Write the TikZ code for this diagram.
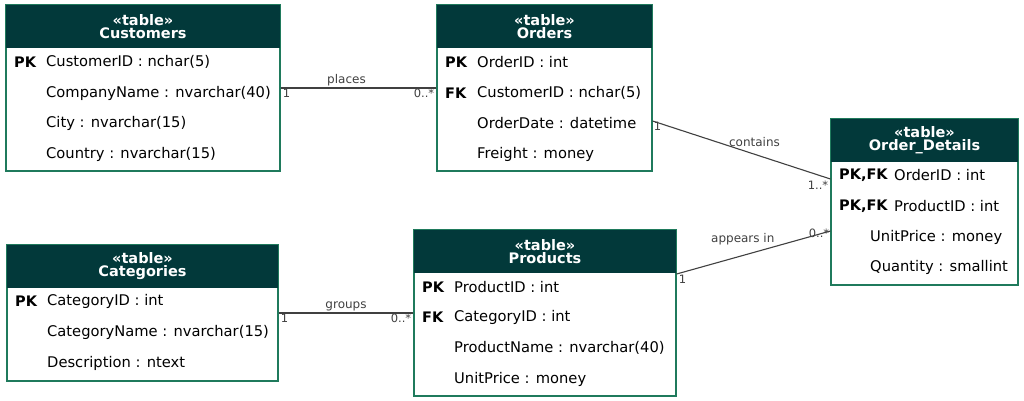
\documentclass[tikz,border=0pt]{standalone}
\usepackage{fontspec}
\setmainfont{DejaVu Sans}
\usetikzlibrary{positioning}
\definecolor{hdr}{HTML}{02393A}
\definecolor{brd}{HTML}{1F7A5C}
\definecolor{lnk}{HTML}{404040}
\tikzset{
  tbl/.style={draw=brd,line width=1.2pt,fill=white,inner sep=0pt},
  title/.style={text=white,font=\fontsize{14.5}{16}\selectfont\bfseries,align=center},
  key/.style={anchor=west,font=\fontsize{14.5}{16}\selectfont\bfseries,inner sep=0pt},
  fld/.style={anchor=west,font=\fontsize{14.7}{16}\selectfont,inner sep=0pt},
  rel/.style={draw=lnk,line width=1.1pt},
  lbl/.style={text=lnk,font=\fontsize{12}{13}\selectfont,inner sep=1pt},
  mult/.style={text=lnk,font=\fontsize{11.5}{12}\selectfont,inner sep=0pt}
}
% table frame with header band
\newcommand{\dbtable}[6]{%
  \node[tbl,minimum width=#4,minimum height=#5] (#1) at (#2,#3) {};
  \fill[hdr] ([xshift=0.6pt,yshift=-0.6pt]#1.north west) rectangle ([xshift=-0.6pt,yshift=-44pt]#1.north east);
  \node[title] (#1-t) at ([yshift=-22pt]#1.north) {«table»\\[-3pt]#6};
}
\begin{document}
\begin{tikzpicture}[x=1pt,y=-1pt]
\useasboundingbox (0,0) rectangle (1024,401);

\dbtable{customers}{143}{88}{274}{166}{Customers}
\node[key] (cu-k1) at (14,62) {PK};
\node[fld] (cu-f1) at (46,62) {CustomerID : nchar(5)};
\node[fld] (cu-f2) at (46,93) {CompanyName : nvarchar(40)};
\node[fld] (cu-f3) at (46,123) {City : nvarchar(15)};
\node[fld] (cu-f4) at (46,154) {Country : nvarchar(15)};

\dbtable{orders}{544.5}{88}{215}{166}{Orders}
\node[key] (or-k1) at (445,62) {PK};
\node[key] (or-k2) at (445,93) {FK};
\node[fld] (or-f1) at (477,62) {OrderID : int};
\node[fld] (or-f2) at (477,93) {CustomerID : nchar(5)};
\node[fld] (or-f3) at (477,123) {OrderDate : datetime};
\node[fld] (or-f4) at (477,154) {Freight : money};

\dbtable{details}{924.5}{202}{187}{166}{Order\_Details}
\node[key] (od-k1) at (839,175) {PK,FK};
\node[key] (od-k2) at (839,206) {PK,FK};
\node[fld] (od-f1) at (894,175) {OrderID : int};
\node[fld] (od-f2) at (894,206) {ProductID : int};
\node[fld] (od-f3) at (870,237) {UnitPrice : money};
\node[fld] (od-f4) at (870,267) {Quantity : smallint};

\dbtable{categories}{142.5}{313}{271}{136}{Categories}
\node[key] (ca-k1) at (15,301) {PK};
\node[fld] (ca-f1) at (47,301) {CategoryID : int};
\node[fld] (ca-f2) at (47,332) {CategoryName : nvarchar(15)};
\node[fld] (ca-f3) at (47,363) {Description : ntext};

\dbtable{products}{545}{313}{262}{166}{Products}
\node[key] (pr-k1) at (422,287) {PK};
\node[key] (pr-k2) at (422,317) {FK};
\node[fld] (pr-f1) at (454,287) {ProductID : int};
\node[fld] (pr-f2) at (454,317) {CategoryID : int};
\node[fld] (pr-f3) at (454,348) {ProductName : nvarchar(40)};
\node[fld] (pr-f4) at (454,379) {UnitPrice : money};

% relations
\draw[rel] (customers.east) -- node[lbl,above,xshift=-12pt] {places} (orders.west);
\node[mult,anchor=north west] at ([xshift=2pt,yshift=-1pt]customers.east) {1};
\node[mult,anchor=north east] at ([xshift=-2pt,yshift=-1pt]orders.west) {0..*};

\draw[rel] ([yshift=-33pt]orders.east) -- node[lbl,above right=2pt and -14pt,pos=0.5] {contains} ([yshift=23pt]details.west);
\node[mult,anchor=north west] at ([xshift=1pt,yshift=-34pt]orders.east) {1};
\node[mult,anchor=north east] at ([xshift=-2pt,yshift=21pt]details.west) {1..*};

\draw[rel] ([yshift=39pt]products.east) -- node[lbl,above left=1pt and -4pt,pos=0.62] {appears in} ([yshift=-29pt]details.west);
\node[mult,anchor=north west] at ([xshift=2pt,yshift=38pt]products.east) {1};
\node[mult,anchor=east] at ([xshift=-1pt,yshift=-31pt]details.west) {0..*};

\draw[rel] (categories.east) -- node[lbl,above] {groups} (products.west);
\node[mult,anchor=north west] at ([xshift=2pt,yshift=-1pt]categories.east) {1};
\node[mult,anchor=north east] at ([xshift=-2pt,yshift=-1pt]products.west) {0..*};
\end{tikzpicture}
\end{document}
